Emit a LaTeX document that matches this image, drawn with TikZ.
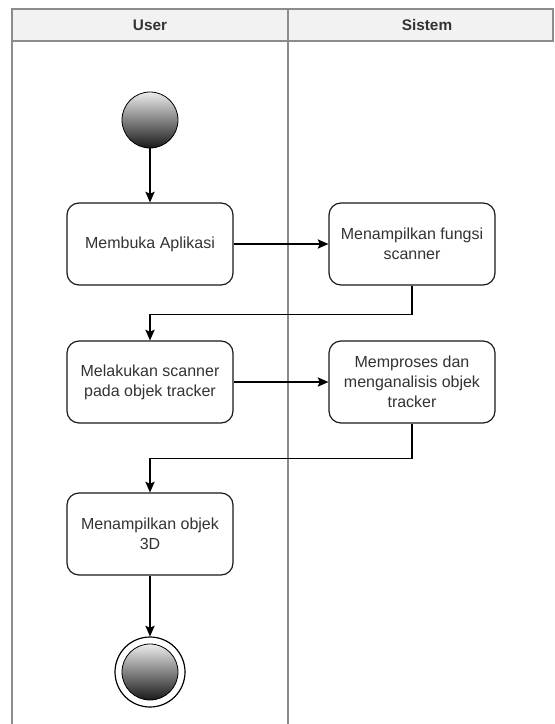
\documentclass[tikz,border=0pt]{standalone}
\usepackage{fontspec}
\setmainfont{Liberation Sans}
\usetikzlibrary{arrows.meta}
\definecolor{ADLane}{HTML}{8C8C8C}
\definecolor{ADHead}{HTML}{F2F2F2}
\definecolor{ADText}{HTML}{333333}
\definecolor{ADEdge}{HTML}{1A1A1A}

\begin{document}
\begin{tikzpicture}[x=0.75pt,y=-0.75pt,
  actbox/.style={draw=ADEdge,line width=0.9pt,rounded corners=9pt,fill=white,
    minimum width=124.5pt,minimum height=61.5pt,inner sep=2pt,align=center,
    text=ADText,font=\fontsize{12}{15}\selectfont},
  headlbl/.style={text=ADText,font=\fontsize{11.5}{14}\selectfont\bfseries},
  ballnode/.style={circle,draw=black,line width=0.6pt,inner sep=0pt,
    minimum size=42pt,top color=gray!15,bottom color=black!90},
  flow/.style={draw=black,line width=0.9pt,-{Stealth[length=8pt,width=7pt,inset=1.5pt]}}]
\path[use as bounding box] (0,0) rectangle (554,724);
\fill[white] (0,0) rectangle (554,724);
\draw[ADLane,fill=ADHead,line width=0.9pt] (12,9) rectangle (553,41);
\draw[ADLane,line width=0.9pt] (12,41) -- (12,724);
\draw[ADLane,line width=0.9pt] (288,9) -- (288,724);
\node[headlbl] (hUser) at (150,25) {User};
\node[headlbl] (hSistem) at (427,25) {Sistem};

\node[ballnode] (start) at (150,120) {};
\node[actbox] (buka) at (150,244) {Membuka Aplikasi};
\node[actbox] (fungsi) at (412,244) {Menampilkan fungsi\\scanner};
\node[actbox] (scan) at (150,382) {Melakukan scanner\\pada objek tracker};
\node[actbox] (proses) at (412,382) {Memproses dan\\menganalisis objek\\tracker};
\node[actbox] (tampil) at (150,534) {Menampilkan objek\\3D};
\node[circle,draw=black,line width=0.9pt,fill=white,inner sep=0pt,minimum size=52.5pt] (endring) at (150,672) {};
\node[ballnode] (endball) at (150,672) {};

\draw[flow] (start) -- (buka);
\draw[flow] (buka) -- (fungsi);
\draw[flow] (fungsi.south) -- ++(0,29) -| (scan.north);
\draw[flow] (scan) -- (proses);
\draw[flow] (proses.south) -- ++(0,35) -| (tampil.north);
\draw[flow] (tampil) -- (endring);
\end{tikzpicture}
\end{document}
